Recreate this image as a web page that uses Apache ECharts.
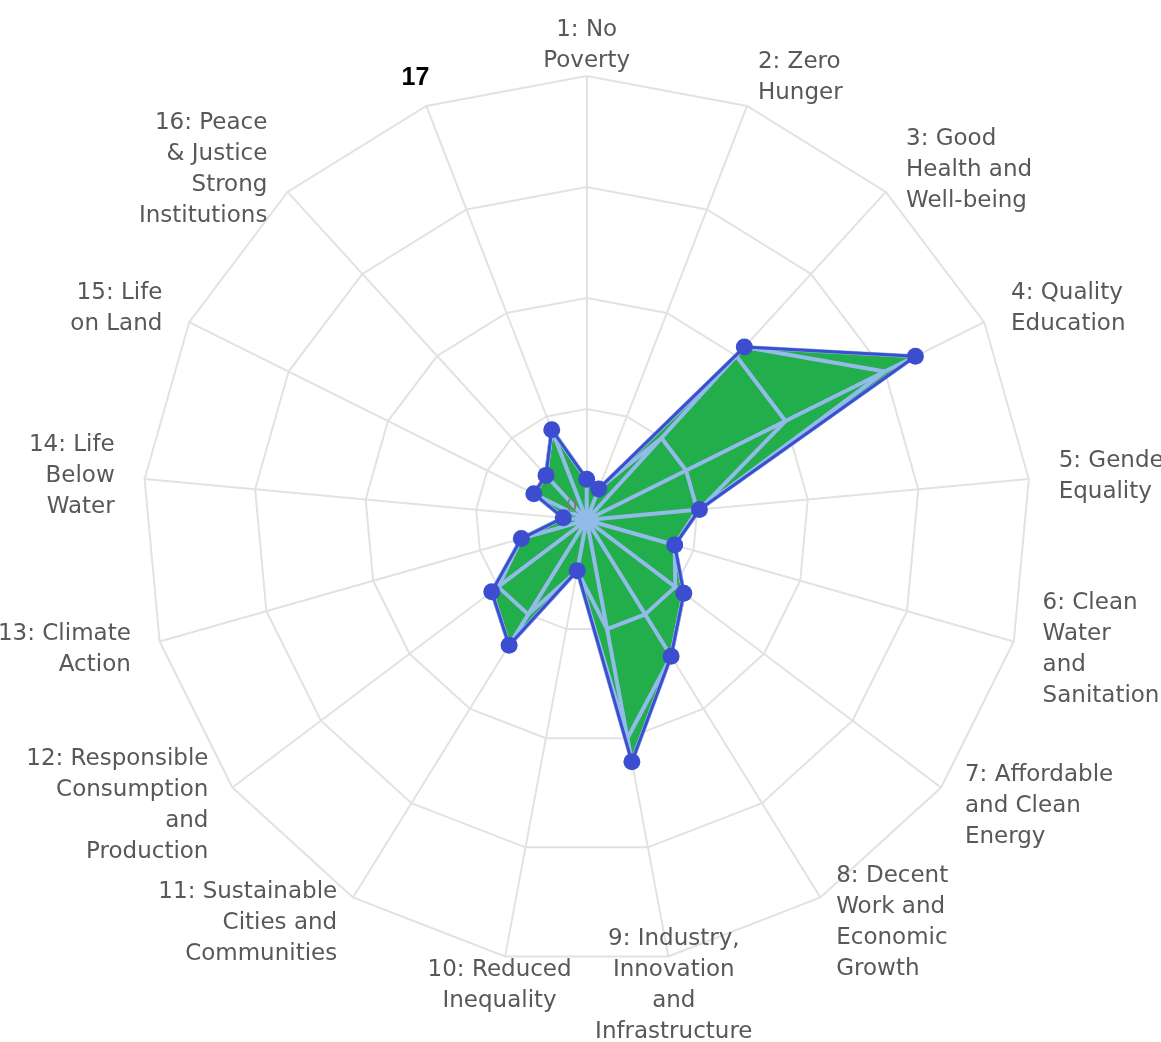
<!DOCTYPE html>
<html>
<head>
<meta charset="utf-8">
<script src="https://cdn.jsdelivr.net/npm/echarts@6/dist/echarts.min.js"></script>
<style>
  html, body { margin: 0; padding: 0; background: #ffffff; }
  #chart { width: 1161px; height: 1042px; }
</style>
</head>
<body>
<div id="chart"></div>
<script>
// ---- data ----
const CATEGORIES = [
  '1: No\nPoverty',
  '2: Zero\nHunger',
  '3: Good\nHealth and\nWell-being',
  '4: Quality\nEducation',
  '5: Gender\nEquality',
  '6: Clean\nWater\nand\nSanitation',
  '7: Affordable\nand Clean\nEnergy',
  '8: Decent\nWork and\nEconomic\nGrowth',
  '9: Industry,\nInnovation\nand\nInfrastructure',
  '10: Reduced\nInequality',
  '11: Sustainable\nCities and\nCommunities',
  '12: Responsible\nConsumption\nand\nProduction',
  '13: Climate\nAction',
  '14: Life\nBelow\nWater',
  '15: Life\non Land',
  '16: Peace\n& Justice\nStrong\nInstitutions',
  '17'
];
const VALUES = [9.2, 7.5, 52.7, 82.7, 25.5, 20.6, 27.4, 36.1, 55.4, 11.6, 33.2, 26.8, 15.3, 5.3, 13.3, 13.6, 21.8];
const AXIS_MAX = 100;
const BAND_LEVELS = [25, 50, 75];
const CENTER_LABEL = '0';

// ---- styles ----
const GREEN = '#23ae4c';
const DARK = '#3d4dcf';
const LIGHT = '#93bbea';
const GRID = '#e2e2e2';
const CENTER = [586.7, 520];
const RADIUS = 444;
const LABEL_RADIUS = 474;

// radar in ECharts runs counter-clockwise; reorder so goals run clockwise
const ORDER = [0];
for (let i = CATEGORIES.length - 1; i >= 1; i--) ORDER.push(i);
const reorder = arr => ORDER.map(i => arr[i]);

const bandItems = BAND_LEVELS.map(L => ({ value: reorder(VALUES.map(v => Math.min(v, L))) }));
const spokeItems = VALUES.map((v, k) => ({ value: reorder(VALUES.map((w, i) => (i === k ? w : 0))) }));

function alignFor(i) {
  if (i === 0 || i === 8 || i === 9 || i === 16) return 'center';
  return i < 8 ? 'left' : 'right';
}

const labelItems = CATEGORIES.map((c, i) => {
  const special = (i === 16);
  return {
    value: [1, i],
    label: {
      show: true,
      position: 'inside',
      formatter: c,
      align: alignFor(i),
      verticalAlign: 'middle',
      fontFamily: special ? 'Liberation Sans' : 'DejaVu Sans',
      fontSize: special ? 25 : 23,
      fontWeight: special ? 'bold' : 'normal',
      lineHeight: 31,
      color: special ? '#000000' : '#585858',
      textBorderWidth: 0,
      opacity: 1
    }
  };
});
labelItems.push({
  value: [0, 0],
  label: {
    show: true, position: 'inside', formatter: CENTER_LABEL,
    offset: [-15, -14], fontFamily: 'Liberation Serif', fontSize: 21, color: '#7a7a7a',
    textBorderWidth: 0, opacity: 1
  }
});

const chart = echarts.init(document.getElementById('chart'));
chart.setOption({
  animation: false,
  backgroundColor: '#ffffff',
  radar: {
    center: CENTER,
    radius: RADIUS,
    startAngle: 90,
    shape: 'polygon',
    splitNumber: 4,
    indicator: reorder(CATEGORIES).map(n => ({ name: n, min: 0, max: AXIS_MAX })),
    axisName: { show: false },
    splitLine: { lineStyle: { color: GRID, width: 2 } },
    splitArea: { show: false },
    axisLine: { lineStyle: { color: GRID, width: 2 } },
    axisTick: { show: false },
    axisLabel: { show: false }
  },
  polar: { center: CENTER, radius: LABEL_RADIUS },
  angleAxis: {
    type: 'value', min: 0, max: CATEGORIES.length, startAngle: 90, clockwise: true,
    axisLine: { show: false }, axisTick: { show: false }, axisLabel: { show: false }, splitLine: { show: false }
  },
  radiusAxis: {
    type: 'value', min: 0, max: 1,
    axisLine: { show: false }, axisTick: { show: false }, axisLabel: { show: false }, splitLine: { show: false }
  },
  series: [
    {
      type: 'radar', z: 2, silent: true, symbol: 'none',
      lineStyle: { width: 0 },
      areaStyle: { color: GREEN, opacity: 1 },
      data: [{ value: reorder(VALUES) }]
    },
    {
      type: 'radar', z: 3, silent: true, symbol: 'none',
      lineStyle: { color: LIGHT, width: 4, join: 'round' },
      data: bandItems.concat(spokeItems, [{ value: reorder(VALUES) }])
    },
    {
      type: 'radar', z: 4, silent: true, symbol: 'circle', symbolSize: 17,
      itemStyle: { color: DARK },
      lineStyle: { color: DARK, width: 3 },
      data: [{ value: reorder(VALUES) }]
    },
    {
      type: 'scatter', coordinateSystem: 'polar', silent: true, symbolSize: 0, z: 10,
      itemStyle: { opacity: 1 },
      data: labelItems
    }
  ]
});
</script>
</body>
</html>
